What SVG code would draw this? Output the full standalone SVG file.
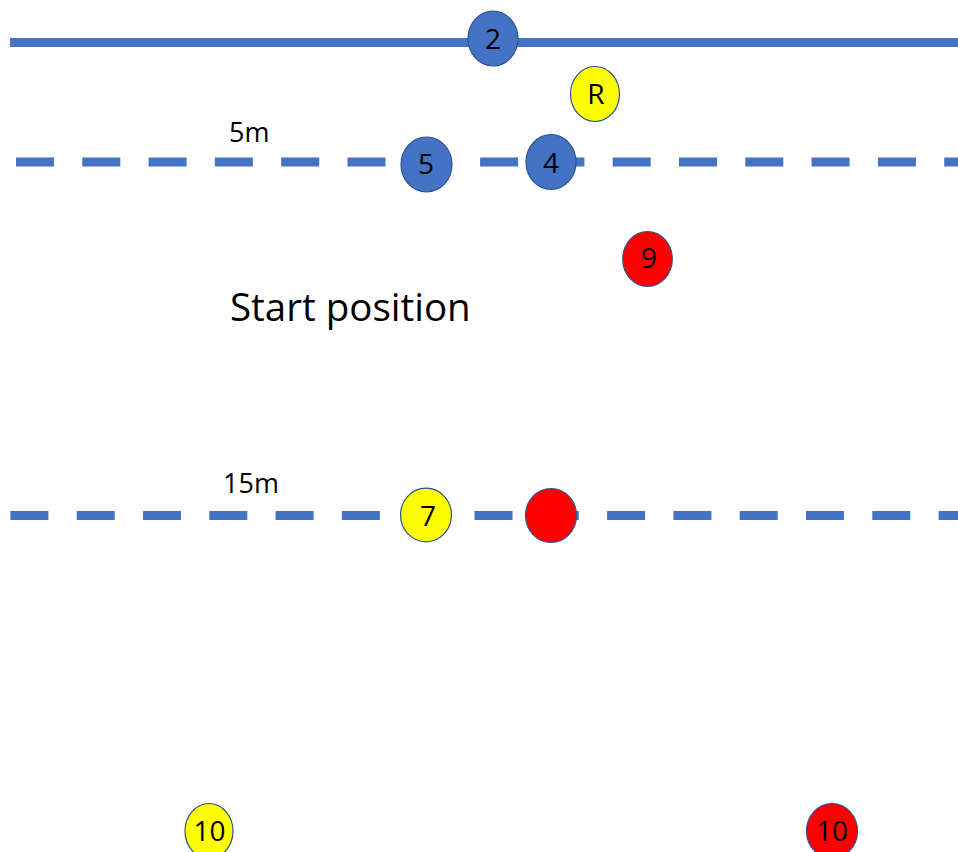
<svg xmlns="http://www.w3.org/2000/svg" width="958" height="852" viewBox="0 0 958 852">
<style>
.ln{stroke:#4472C4;stroke-width:9;fill:none}
.dash{stroke-dasharray:38 28.3}
.nd{stroke:#2F528F;stroke-width:1.2}
.blue{fill:#4472C4}
.yel{fill:#FFFF00}
.red{fill:#FF0000}
.lbl{font-family:"Open Sans","Liberation Sans",sans-serif;font-size:28px;fill:#000;text-anchor:middle;dominant-baseline:central}
.txt{font-family:"Open Sans","Liberation Sans",sans-serif;fill:#000}
</style>
<rect width="958" height="852" fill="#fff"/>
<g id="connectors">
<line class="ln" x1="10" y1="42.5" x2="958" y2="42.5"/>
<line class="ln dash" x1="16" y1="162" x2="958" y2="162"/>
<line class="ln dash" x1="10.4" y1="515.5" x2="958" y2="515.5"/>
</g>
<g id="labels">
<text class="txt" x="229" y="141.5" font-size="27">5m</text>
<text class="txt" x="223" y="493" font-size="27">15m</text>
<text class="txt" x="230" y="320.5" font-size="38.5">Start position</text>
</g>
<g id="node-2"><ellipse class="nd blue" cx="493" cy="38.5" rx="25" ry="27.5"/><text class="lbl" x="493" y="38">2</text></g>
<g id="node-R"><ellipse class="nd yel" cx="595" cy="94" rx="24.5" ry="27.5"/><text class="lbl" x="596" y="93" font-size="24">R</text></g>
<g id="node-5"><ellipse class="nd blue" cx="426.5" cy="164.5" rx="25.5" ry="27.5"/><text class="lbl" x="426" y="163">5</text></g>
<g id="node-4"><ellipse class="nd blue" cx="551" cy="162" rx="25" ry="27.5"/><text class="lbl" x="551" y="162">4</text></g>
<g id="node-9"><ellipse class="nd red" cx="647.5" cy="259" rx="24.8" ry="27.5"/><text class="lbl" x="649" y="257">9</text></g>
<g id="node-7"><ellipse class="nd yel" cx="426" cy="515" rx="25.5" ry="26.8"/><text class="lbl" x="428" y="515">7</text></g>
<g id="node-red"><ellipse class="nd red" cx="551" cy="515.5" rx="25.5" ry="27"/></g>
<g id="node-10-yellow"><ellipse class="nd yel" cx="209" cy="831" rx="24" ry="27.5"/><text class="lbl" x="209.5" y="830">10</text></g>
<g id="node-10-red"><ellipse class="nd red" cx="832" cy="831" rx="25.5" ry="27.5"/><text class="lbl" x="832" y="830">10</text></g>
</svg>
